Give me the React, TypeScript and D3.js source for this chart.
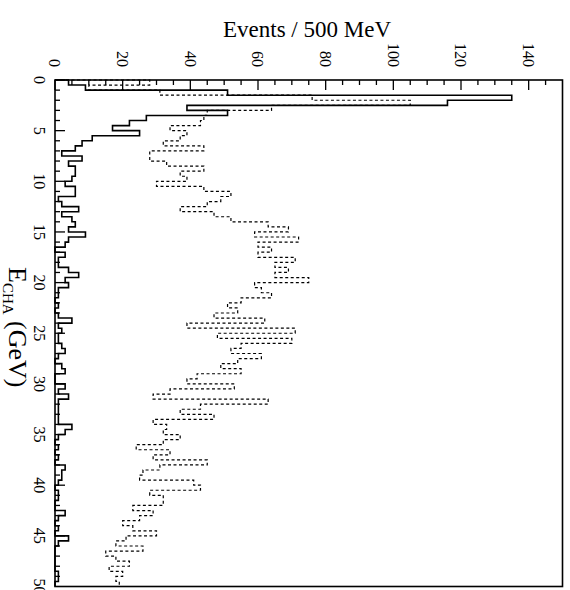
import { useEffect, useRef } from 'react';
import * as d3 from 'd3';

// E_CHA histogram, 0.5 GeV bins from 0 to 50 GeV
const binWidth = 0.5;

const solidCounts = [
  4, 9, 51, 135, 116, 39, 51, 27, 22, 17,
  25, 11, 8, 6, 2, 8, 4, 6, 6, 5,
  3, 6, 6, 1, 2, 7, 2, 5, 6, 4,
  9, 4, 3, 0, 3, 1, 1, 4, 7, 3,
  4, 1, 1, 0, 1, 0, 1, 5, 1, 2,
  1, 1, 2, 3, 1, 0, 2, 3, 0, 0,
  3, 1, 4, 1, 1, 1, 1, 1, 5, 3,
  1, 0, 1, 0, 1, 0, 3, 2, 2, 1,
  0, 1, 1, 0, 0, 3, 1, 0, 1, 0,
  4, 1, 0, 0, 0, 0, 0, 1, 1, 0,
];

const dashedCounts = [
  28, 10, 31, 76, 105, 64, 45, 44, 43, 34,
  39, 37, 32, 44, 28, 28, 33, 44, 37, 39,
  30, 44, 52, 49, 45, 37, 47, 52, 63, 69,
  59, 72, 60, 64, 60, 71, 65, 69, 65, 75,
  59, 61, 64, 55, 51, 54, 47, 62, 39, 71,
  48, 70, 55, 52, 61, 54, 49, 55, 42, 39,
  53, 34, 29, 63, 43, 37, 47, 29, 33, 32,
  37, 32, 24, 34, 29, 45, 31, 26, 25, 41,
  43, 28, 32, 32, 23, 29, 25, 20, 23, 30,
  21, 18, 26, 15, 18, 22, 16, 20, 18, 19,
];

const eventTicks  = [0, 20, 40, 60, 80, 100, 120, 140];
const energyTicks = [0, 5, 10, 15, 20, 25, 30, 35, 40, 45, 50];

const FONT = '"Liberation Serif", "Times New Roman", serif';

export default function App() {
  const svgRef = useRef<SVGSVGElement>(null);

  useEffect(() => {
    if (!svgRef.current) return;
    const svg = d3.select(svgRef.current);
    svg.selectAll('*').remove();

    const W = 570, H = 590;
    const frame = { left: 55, top: 80, right: 562.5, bottom: 586.5 };

    svg.attr('width', W).attr('height', H);

    // rotated layout: events run left->right, energy runs top->bottom
    const x = d3.scaleLinear().domain([0, 150]).range([frame.left, frame.right]);
    const y = d3.scaleLinear().domain([0, 50]).range([frame.top, frame.bottom]);

    const outline = (counts: number[]) => {
      const pts: [number, number][] = [[0, 0]];
      counts.forEach((c, i) => {
        pts.push([c, i * binWidth], [c, (i + 1) * binWidth]);
      });
      pts.push([0, counts.length * binWidth]);
      return d3.line<[number, number]>()
        .x(d => x(d[0]))
        .y(d => y(d[1]))(pts);
    };

    svg.append('path')
      .attr('d', outline(dashedCounts))
      .attr('fill', 'none')
      .attr('stroke', '#000')
      .attr('stroke-width', 1.2)
      .attr('stroke-dasharray', '3,2.5');

    svg.append('path')
      .attr('d', outline(solidCounts))
      .attr('fill', 'none')
      .attr('stroke', '#000')
      .attr('stroke-width', 1.6);

    // frame
    svg.append('rect')
      .attr('x', frame.left).attr('y', frame.top)
      .attr('width', frame.right - frame.left)
      .attr('height', frame.bottom - frame.top)
      .attr('fill', 'none').attr('stroke', '#000').attr('stroke-width', 1.6);

    // ticks on top axis (pointing inward)
    const topMinor = d3.range(0, 150, 5);
    svg.append('g').selectAll('line')
      .data(topMinor)
      .enter().append('line')
      .attr('x1', d => x(d)).attr('x2', d => x(d))
      .attr('y1', frame.top)
      .attr('y2', d => frame.top + (d % 20 === 0 ? 10 : 5))
      .attr('stroke', '#000').attr('stroke-width', 1.3);

    // ticks on left axis
    const leftMinor = d3.range(0, 50, 1);
    svg.append('g').selectAll('line')
      .data(leftMinor)
      .enter().append('line')
      .attr('y1', d => y(d)).attr('y2', d => y(d))
      .attr('x1', frame.left)
      .attr('x2', d => frame.left + (d % 5 === 0 ? 10 : 5))
      .attr('stroke', '#000').attr('stroke-width', 1.3);

    // top tick labels, rotated
    svg.append('g').selectAll('text')
      .data(eventTicks)
      .enter().append('text')
      .attr('transform', d => `translate(${x(d) - 5.8},67) rotate(90)`)
      .attr('text-anchor', 'end')
      .attr('font-family', FONT).attr('font-size', 16)
      .text(d => d);

    // left tick labels, rotated
    svg.append('g').selectAll('text')
      .data(energyTicks)
      .enter().append('text')
      .attr('transform', d => `translate(34,${y(d)}) rotate(90)`)
      .attr('text-anchor', 'middle')
      .attr('font-family', FONT).attr('font-size', 16)
      .text(d => d);

    // titles
    svg.append('text')
      .attr('x', 307).attr('y', 37)
      .attr('text-anchor', 'middle')
      .attr('font-family', FONT).attr('font-size', 23)
      .text('Events / 500 MeV');

    const xt = svg.append('text')
      .attr('transform', 'translate(9,267) rotate(90)')
      .attr('font-family', FONT).attr('font-size', 26);
    xt.append('tspan').text('E');
    xt.append('tspan').attr('font-size', 15).attr('dy', 6).text('CHA');
    xt.append('tspan').attr('dy', -6).text(' (GeV)');
  }, []);

  return (
    <svg
      ref={svgRef}
      style={{ position: 'absolute', left: 0, top: 0, background: '#fff', display: 'block' }}
    />
  );
}
